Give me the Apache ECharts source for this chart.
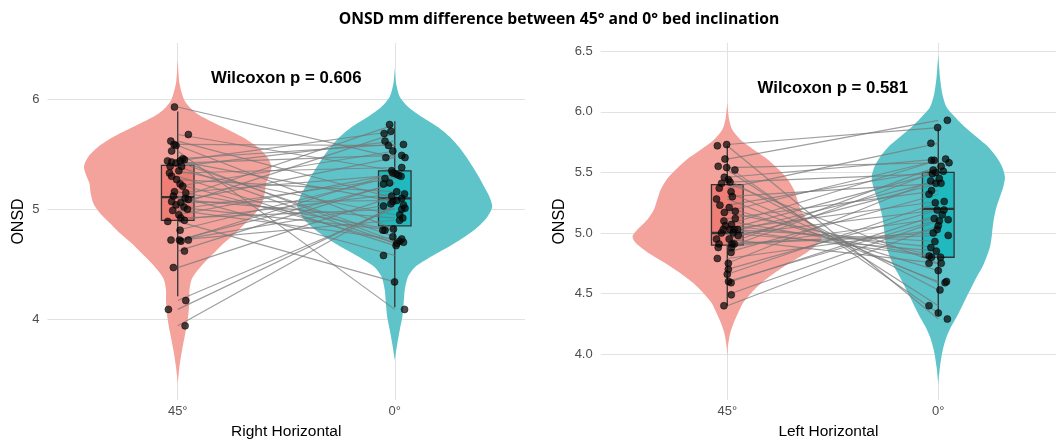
<!DOCTYPE html>
<html><head><meta charset="utf-8">
<script src="https://cdn.jsdelivr.net/npm/echarts@6/dist/echarts.min.js"></script>
<style>html,body{margin:0;padding:0;background:#fff}#chart{width:1056px;height:439px}</style>
</head><body><div id="chart"></div>
<script>
// ---------- DATA ----------
const CHART_TITLE = 'ONSD mm difference between 45° and 0° bed inclination';
const CATEGORIES = ['45°', '0°'];
const PANEL_TITLES = ['Right Horizontal', 'Left Horizontal'];
const Y_NAME = 'ONSD';
const P_VALUES = ['0.606', '0.581'];
const RIGHT_TICKS = [4, 5, 6];
const LEFT_TICKS = [4, 4.5, 5, 5.5, 6, 6.5];

// Right Horizontal: paired per patient (index i = same patient)
const RH_45 = [5.93,5.68,5.62,5.59,5.58,5.53,5.46,5.45,5.44,5.44,5.43,5.42,5.39,5.39,5.35,5.33,5.30,5.27,5.23,5.21,5.16,5.15,5.12,5.10,5.09,5.07,5.06,5.04,5.02,5.00,4.99,4.95,4.92,4.90,4.89,4.81,4.72,4.72,4.71,4.72,4.62,4.47,4.17,4.09,3.94];
const RH_0  = [5.47,5.35,5.10,5.58,4.82,4.09,5.59,4.71,5.71,5.07,4.75,5.49,4.69,5.62,4.95,5.38,4.67,5.16,4.70,5.53,4.81,5.31,4.58,5.77,4.92,5.47,5.08,5.69,4.81,5.28,4.73,5.32,5.00,5.14,4.34,5.30,5.23,5.05,5.33,4.90,5.24,5.12,5.01,5.03,5.04];
// horizontal jitter of the dots (category units)
const RH_45_JIT = [-0.015,0.049,-0.032,-0.017,-0.008,-0.028,0.023,0.031,0.011,-0.047,-0.028,-0.008,-0.035,0.018,0.005,-0.038,-0.028,-0.005,0.011,0.023,-0.015,0.037,-0.02,0.034,0.049,-0.028,0.014,-0.008,0.029,0.045,-0.023,0.005,0.014,0.031,-0.046,0.011,-0.031,0.008,0.015,0.049,0.031,-0.02,0.037,-0.043,0.034];
const RH_0_JIT  = [0.047,-0.014,0.032,-0.029,-0.006,0.045,0.04,0.022,-0.018,-0.009,-0.009,0.032,0.009,-0.045,0.023,0.032,0.006,0.009,0.04,-0.009,-0.045,0.017,-0.052,-0.024,0.037,-0.041,0.009,-0.049,-0.055,-0.045,0.032,0.006,0.032,0.045,-0.001,0.029,-0.052,-0.018,-0.009,0.022,-0.024,-0.014,0.047,-0.052,0.04];

// Left Horizontal
const LH_45 = [5.73,5.72,5.61,5.55,5.54,5.52,5.46,5.44,5.42,5.41,5.37,5.34,5.30,5.28,5.23,5.21,5.18,5.17,5.12,5.10,5.07,5.06,5.03,5.03,5.03,5.03,5.00,5.00,4.98,4.95,4.95,4.91,4.91,4.91,4.88,4.88,4.84,4.79,4.75,4.70,4.66,4.60,4.59,4.49,4.40];
const LH_0  = [5.87,4.29,5.93,4.34,5.58,4.40,5.61,4.53,5.49,4.75,5.74,4.59,5.41,4.60,5.52,4.69,5.60,4.81,5.35,4.80,5.60,4.88,5.50,4.80,5.26,4.93,5.43,4.85,5.19,4.75,5.41,4.98,5.55,5.00,5.51,5.12,5.32,5.03,5.45,5.19,5.25,5.11,5.15,5.10,5.06];
const LH_45_JIT = [-0.003,-0.047,-0.011,-0.043,-0.003,0.036,-0.014,0.005,0.013,-0.027,-0.038,0.018,0.024,-0.051,-0.035,0.009,0.038,-0.014,0.038,-0.016,0.02,-0.009,-0.019,0.013,0.033,0.049,0.028,-0.028,0.052,0.009,-0.051,-0.039,0.022,0.033,0.02,-0.043,0.018,-0.047,0.005,0.005,0,0.006,0.018,0.019,-0.016];
const LH_0_JIT  = [-0.003,0.043,0.043,0,0.051,-0.044,0.035,0.008,-0.028,-0.044,-0.035,0.032,-0.011,0.039,-0.024,0,-0.032,-0.043,-0.032,-0.032,-0.019,-0.035,-0.011,0.011,0.028,-0.016,-0.036,-0.009,0.027,0.014,0.013,0.047,0.014,-0.024,0.024,-0.019,-0.044,-0.005,0.005,-0.005,-0.014,0.047,0.019,0.005,0];

// Box statistics [lower whisker, Q1, median, Q3, upper whisker]
const RH_BOX = [[4.21,4.90,5.11,5.40,5.89],[4.11,4.85,5.10,5.35,5.80]];
const LH_BOX = [[4.40,4.90,5.00,5.40,5.72],[4.32,4.80,5.20,5.50,5.86]];

// Violin density outlines: ONSD level and half-width (category units)
const RH_45_DENS_Y = [6.357,6.145,5.994,5.906,5.842,5.751,5.66,5.569,5.478,5.387,5.296,5.236,5.145,5.055,4.964,4.873,4.782,4.691,4.6,4.509,4.418,4.357,4.266,4.175,4.084,3.994,3.873,3.721,3.569,3.418];
const RH_45_DENS_W = [0,0.008,0.03,0.066,0.112,0.204,0.296,0.366,0.412,0.432,0.419,0.407,0.401,0.389,0.358,0.312,0.266,0.212,0.166,0.12,0.081,0.063,0.054,0.054,0.051,0.046,0.035,0.02,0.008,0];
const RH_0_DENS_Y = [6.282,6.145,6.024,5.933,5.842,5.751,5.66,5.569,5.478,5.387,5.296,5.205,5.115,5.024,4.933,4.842,4.751,4.66,4.569,4.478,4.387,4.266,4.145,4.024,3.903,3.782,3.63];
const RH_0_DENS_W = [0,0.006,0.023,0.061,0.123,0.197,0.253,0.295,0.329,0.359,0.387,0.412,0.436,0.449,0.427,0.384,0.323,0.249,0.166,0.095,0.061,0.046,0.041,0.035,0.023,0.012,0];
const LH_45_DENS_Y = [6.073,5.935,5.852,5.77,5.687,5.605,5.522,5.44,5.357,5.275,5.192,5.11,5.027,4.972,4.917,4.835,4.752,4.67,4.587,4.505,4.422,4.34,4.257,4.175,4.064,3.982];
const LH_45_DENS_W = [0,0.009,0.024,0.063,0.126,0.193,0.245,0.288,0.316,0.332,0.348,0.379,0.427,0.449,0.433,0.374,0.295,0.224,0.161,0.114,0.074,0.051,0.03,0.014,0.003,0];
const LH_0_DENS_Y = [6.466,6.287,6.15,6.04,5.957,5.875,5.792,5.71,5.627,5.545,5.462,5.38,5.297,5.215,5.132,5.05,4.967,4.884,4.802,4.719,4.637,4.554,4.472,4.389,4.307,4.224,4.142,4.032,3.894,3.757];
const LH_0_DENS_W = [0,0.008,0.019,0.039,0.079,0.126,0.182,0.237,0.276,0.303,0.316,0.308,0.292,0.276,0.265,0.258,0.253,0.245,0.229,0.209,0.182,0.158,0.134,0.111,0.087,0.06,0.039,0.021,0.008,0];

// ---------- STYLE ----------
const VIOLIN_FILL = ['#F3A29C', '#5EC4C9'];
const BOX_FILL = ['#EE7E76', '#20B9BE'];
const FONT = '"Liberation Sans", Arial, sans-serif';
const GRID_COLOR = '#e2e2e2';

const panels = [
  {v45: RH_45, v0: RH_0, j45: RH_45_JIT, j0: RH_0_JIT, box: RH_BOX,
   dens: [[RH_45_DENS_Y, RH_45_DENS_W], [RH_0_DENS_Y, RH_0_DENS_W]],
   ticks: RIGHT_TICKS, fmt: v => String(v), ymin: 3.266, ymax: 6.512, xmax: 2.6, nameGap: 21},
  {v45: LH_45, v0: LH_0, j45: LH_45_JIT, j0: LH_0_JIT, box: LH_BOX,
   dens: [[LH_45_DENS_Y, LH_45_DENS_W], [LH_0_DENS_Y, LH_0_DENS_W]],
   ticks: LEFT_TICKS, fmt: v => v.toFixed(1), ymin: 3.622, ymax: 6.568, xmax: 2.558, nameGap: 33}
];

const grids = [
  {left: 47.5, right: 531, top: 43, bottom: 39, containLabel: false, outerBoundsMode: 'none'},
  {left: 600.7, right: 0, top: 43, bottom: 39, containLabel: false, outerBoundsMode: 'none'}
];

const xAxes = [], yAxes = [], series = [];
panels.forEach((p, k) => {
  xAxes.push({
    gridIndex: k, type: 'value', min: 0.4, max: p.xmax,
    name: PANEL_TITLES[k], nameLocation: 'middle', nameGap: 24,
    nameTextStyle: {fontSize: 15.5, color: '#000', fontFamily: FONT},
    axisLine: {show: false}, axisTick: {show: false, customValues: [1, 2]},
    axisLabel: {customValues: [1, 2], formatter: v => CATEGORIES[Math.round(v) - 1], color: '#4d4d4d', fontSize: 13, margin: 5, fontFamily: FONT},
    splitLine: {show: true, lineStyle: {color: GRID_COLOR, width: 1.1}}
  });
  yAxes.push({
    gridIndex: k, type: 'value', min: p.ymin, max: p.ymax,
    name: Y_NAME, nameLocation: 'middle', nameGap: p.nameGap, nameRotate: 90,
    nameTextStyle: {fontSize: 16, color: '#000', fontFamily: FONT},
    axisLine: {show: false}, axisTick: {show: false, customValues: p.ticks},
    axisLabel: {customValues: p.ticks, formatter: p.fmt, color: '#4d4d4d', fontSize: 13, margin: 8, fontFamily: FONT},
    splitLine: {show: true, lineStyle: {color: GRID_COLOR, width: 1.1}}
  });

  // violins
  series.push({
    type: 'custom', xAxisIndex: k, yAxisIndex: k, silent: true,
    data: [[1, 5], [2, 5]], encode: {x: 0, y: 1},
    renderItem: (params, api) => {
      const g = api.value(0);
      const [ys, ws] = p.dens[params.dataIndex];
      const pts = [];
      for (let i = 0; i < ys.length; i++) pts.push(api.coord([g + ws[i], ys[i]]));
      for (let i = ys.length - 1; i >= 0; i--) pts.push(api.coord([g - ws[i], ys[i]]));
      return {type: 'polygon', shape: {points: pts, smooth: 0.25}, style: {fill: VIOLIN_FILL[params.dataIndex]}};
    }
  });
  // boxes
  series.push({
    type: 'custom', xAxisIndex: k, yAxisIndex: k, silent: true,
    data: [[1, p.box[0][2]], [2, p.box[1][2]]], encode: {x: 0, y: 1},
    renderItem: (params, api) => {
      const g = api.value(0);
      const [mn, q1, md, q3, mx] = p.box[params.dataIndex];
      const hw = 0.075, stroke = '#333333';
      const c = v => api.coord([g, v]);
      const tl = api.coord([g - hw, q3]), br = api.coord([g + hw, q1]);
      const ml = api.coord([g - hw, md]), mr = api.coord([g + hw, md]);
      return {type: 'group', children: [
        {type: 'line', shape: {x1: c(q3)[0], y1: c(q3)[1], x2: c(mx)[0], y2: c(mx)[1]}, style: {stroke, lineWidth: 1.3}},
        {type: 'line', shape: {x1: c(q1)[0], y1: c(q1)[1], x2: c(mn)[0], y2: c(mn)[1]}, style: {stroke, lineWidth: 1.3}},
        {type: 'rect', shape: {x: tl[0], y: tl[1], width: br[0] - tl[0], height: br[1] - tl[1]}, style: {fill: BOX_FILL[params.dataIndex], stroke, lineWidth: 1.3}},
        {type: 'line', shape: {x1: ml[0], y1: ml[1], x2: mr[0], y2: mr[1]}, style: {stroke, lineWidth: 2.3}}
      ]};
    }
  });
  // paired lines
  series.push({
    type: 'lines', coordinateSystem: 'cartesian2d', xAxisIndex: k, yAxisIndex: k, silent: true,
    data: p.v45.map((v, i) => ({coords: [[1, v], [2, p.v0[i]]]})),
    lineStyle: {color: '#777777', opacity: 0.72, width: 1.15}
  });
  // dots
  const dots = p.v45.map((v, i) => [1 + p.j45[i], v]).concat(p.v0.map((v, i) => [2 + p.j0[i], v]));
  series.push({
    type: 'scatter', xAxisIndex: k, yAxisIndex: k, silent: true,
    data: dots, symbolSize: 7,
    itemStyle: {color: 'rgba(8,8,8,0.9)', borderColor: '#000', borderWidth: 0.6}
  });
  // Wilcoxon annotation
  series.push({
    type: 'custom', xAxisIndex: k, yAxisIndex: k, silent: true,
    data: [[1.5, 6.19]], encode: {x: 0, y: 1},
    renderItem: (params, api) => {
      const pt = api.coord([api.value(0), api.value(1)]);
      return {type: 'text', x: pt[0], y: pt[1], style: {
        text: 'Wilcoxon p = ' + P_VALUES[k], fill: '#000000',
        fontFamily: FONT, fontWeight: 'bold', fontSize: 16.8,
        textAlign: 'center', textVerticalAlign: 'middle'}};
    }
  });
});

const chart = echarts.init(document.getElementById('chart'), null, {renderer: 'canvas'});
chart.setOption({
  animation: false,
  backgroundColor: '#ffffff',
  textStyle: {fontFamily: FONT},
  grid: grids, xAxis: xAxes, yAxis: yAxes, series,
  graphic: [{type: 'text', x: 559, y: 20, silent: true,
    style: {text: CHART_TITLE, fontFamily: '"Open Sans", sans-serif', fontWeight: 'bold', fontSize: 15.7,
      fill: '#000', textAlign: 'center', textVerticalAlign: 'middle'}}]
});
</script></body></html>
